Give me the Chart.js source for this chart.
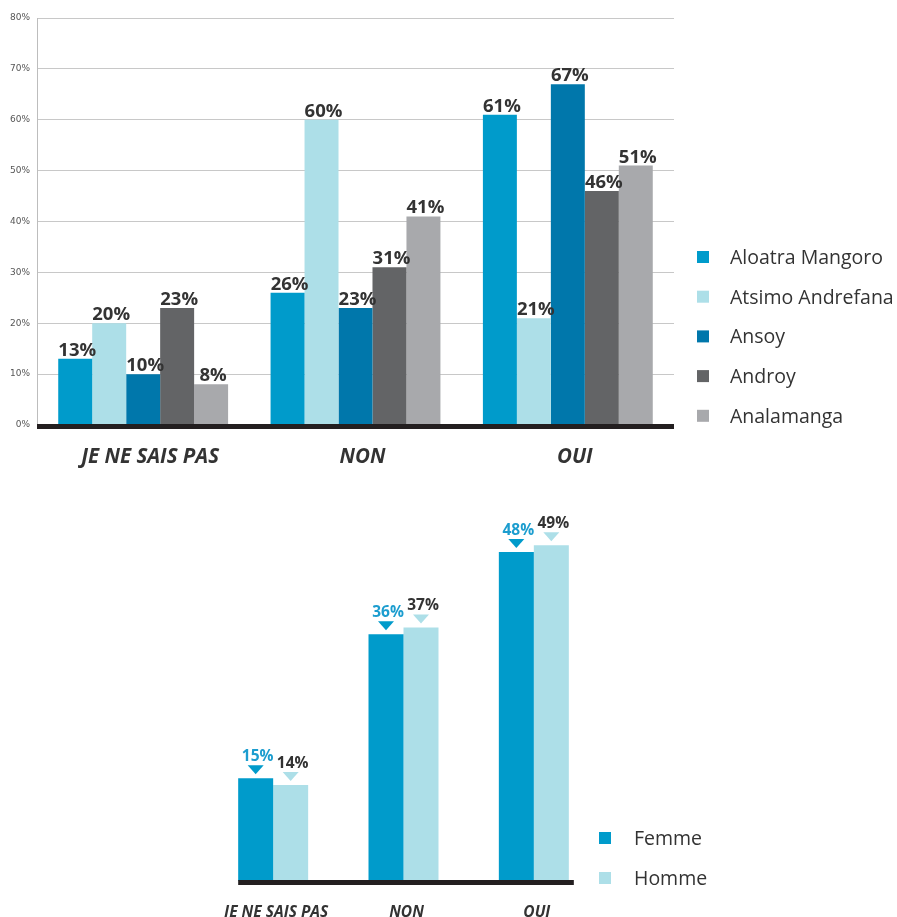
<!DOCTYPE html>
<html>
<head>
<meta charset="utf-8">
<script src="https://cdn.jsdelivr.net/npm/chart.js@4.4.1/dist/chart.umd.min.js"></script>
<style>
  html, body { margin: 0; padding: 0; background: #fff; }
  #topBox { position: absolute; left: 0; top: 0; width: 897px; height: 475px; }
  #bottomBox { position: absolute; left: 0; top: 475px; width: 897px; height: 442px; }
</style>
</head>
<body>
<div id="topBox"><canvas id="regionChart"></canvas></div>
<div id="bottomBox"><canvas id="genderChart"></canvas></div>
<script>
// answers shown on both charts
const answers = ["JE NE SAIS PAS", "NON", "OUI"];

// by region (%)
const regions = ["Aloatra Mangoro", "Atsimo Andrefana", "Ansoy", "Androy", "Analamanga"];
const regionColors = ["#009BCB", "#ADDFE8", "#0077AB", "#636466", "#A8A9AC"];
const aloatraMangoro = [13, 26, 61];
const atsimoAndrefana = [20, 60, 21];
const ansoy = [10, 23, 67];
const androy = [23, 31, 46];
const analamanga = [8, 41, 51];
const regionValues = [aloatraMangoro, atsimoAndrefana, ansoy, androy, analamanga];
const yTicks = [0, 10, 20, 30, 40, 50, 60, 70, 80];

// by gender (%)
const genders = ["Femme", "Homme"];
const genderColors = ["#009BCB", "#ADDFE8"];
const genderLabelColors = ["#1C9DCF", "#333333"];
const femme = [15, 36, 48];
const homme = [14, 37, 49];
const genderValues = [femme, homme];

const FONT = "'Open Sans', sans-serif";

// thick dark base line under the bars
const baseLine = {
  id: "baseLine",
  afterDatasetsDraw(chart, args, opts) {
    const ctx = chart.ctx;
    const a = chart.chartArea;
    let left = a.left, right = a.right;
    if (opts.fitBars) {
      const first = chart.getDatasetMeta(0).data[0];
      const lastMeta = chart.getDatasetMeta(chart.data.datasets.length - 1);
      const last = lastMeta.data[lastMeta.data.length - 1];
      left = first.x - first.width / 2;
      right = last.x + last.width / 2 + 5;
    }
    ctx.save();
    ctx.fillStyle = "#231F20";
    ctx.fillRect(left, a.bottom - 1, right - left, 5);
    ctx.restore();
  }
};

// legend painted at a fixed spot beside the plot
const sideLegend = {
  id: "sideLegend",
  afterDraw(chart, args, opts) {
    const ctx = chart.ctx;
    ctx.save();
    ctx.font = opts.font;
    ctx.textBaseline = "middle";
    ctx.textAlign = "left";
    chart.data.datasets.forEach((ds, i) => {
      const y = opts.y + i * opts.gap;
      ctx.fillStyle = ds.backgroundColor;
      ctx.fillRect(opts.x, y, opts.size, opts.size);
      ctx.fillStyle = "#333333";
      ctx.fillText(ds.label, opts.textX, y + opts.size / 2 + 1.5);
    });
    ctx.restore();
  }
};

// percent above each bar, optionally with a small down arrow
const barValues = {
  id: "barValues",
  afterDatasetsDraw(chart, args, opts) {
    const ctx = chart.ctx;
    ctx.save();
    ctx.font = opts.font;
    ctx.textAlign = "center";
    ctx.textBaseline = "alphabetic";
    chart.data.datasets.forEach((ds, di) => {
      chart.getDatasetMeta(di).data.forEach((bar, i) => {
        let top = bar.y;
        if (opts.arrows) {
          ctx.fillStyle = ds.backgroundColor;
          ctx.beginPath();
          ctx.moveTo(bar.x - 8, top - 13);
          ctx.lineTo(bar.x + 8, top - 13);
          ctx.lineTo(bar.x, top - 4);
          ctx.closePath();
          ctx.fill();
          top -= 17;
        } else {
          top -= 3;
        }
        ctx.fillStyle = opts.colors ? opts.colors[di] : "#333333";
        ctx.fillText(ds.data[i] + "%", bar.x + opts.shift, top);
      });
    });
    ctx.restore();
  }
};

/* REGION CHART */
new Chart(document.getElementById("regionChart"), {
  type: "bar",
  data: {
    labels: answers,
    datasets: regions.map((name, i) => ({
      label: name,
      data: regionValues[i],
      backgroundColor: regionColors[i],
      borderWidth: 0,
      categoryPercentage: 0.8,
      barPercentage: 1.0
    }))
  },
  options: {
    animation: false,
    responsive: true,
    maintainAspectRatio: false,
    layout: { padding: { top: 18, right: 223, bottom: 0, left: 0 } },
    plugins: {
      legend: { display: false },
      tooltip: { enabled: false },
      barValues: { font: "bold 18.5px " + FONT, shift: 2 },
      baseLine: { fitBars: false },
      sideLegend: { x: 697, y: 251, gap: 39.7, size: 12, textX: 730, font: "19.5px " + FONT }
    },
    scales: {
      x: {
        grid: { display: false },
        border: { display: false },
        ticks: {
          color: "#333333",
          font: { family: FONT, size: 20.5, weight: "bold", style: "italic" },
          padding: 12,
          labelOffset: 7
        },
        afterFit: s => { s.height = 50; }
      },
      y: {
        min: 0,
        max: 80,
        afterBuildTicks: s => { s.ticks = yTicks.map(v => ({ value: v })); },
        grid: { color: "#C8C8C8", lineWidth: 1, drawTicks: false },
        border: { display: true, color: "#BDBDBD" },
        ticks: {
          color: "#555555",
          font: { family: "'DejaVu Sans'", size: 9 },
          padding: 7,
          callback: v => v + "%"
        },
        afterFit: s => { s.width = 37; }
      }
    }
  },
  plugins: [baseLine, barValues, sideLegend]
});

/* GENDER CHART */
new Chart(document.getElementById("genderChart"), {
  type: "bar",
  data: {
    labels: answers,
    datasets: genders.map((name, i) => ({
      label: name,
      data: genderValues[i],
      backgroundColor: genderColors[i],
      borderWidth: 0,
      categoryPercentage: 0.537,
      barPercentage: 1.0
    }))
  },
  options: {
    animation: false,
    responsive: true,
    maintainAspectRatio: false,
    layout: { padding: { top: 29, right: 298, bottom: 0, left: 208 } },
    plugins: {
      legend: { display: false },
      tooltip: { enabled: false },
      barValues: { font: "bold 15.5px " + FONT, shift: 2, arrows: true, colors: genderLabelColors },
      baseLine: { fitBars: true },
      sideLegend: { x: 599, y: 357, gap: 40, size: 12, textX: 634, font: "19.5px " + FONT }
    },
    scales: {
      x: {
        grid: { display: false },
        border: { display: false },
        ticks: {
          color: "#333333",
          font: { family: FONT, size: 15.5, weight: "bold", style: "italic" },
          padding: 14,
          labelOffset: 3
        },
        afterFit: s => { s.height = 36; }
      },
      y: {
        display: false,
        min: 0,
        max: 55
      }
    }
  },
  plugins: [baseLine, barValues, sideLegend]
});
</script>
</body>
</html>
